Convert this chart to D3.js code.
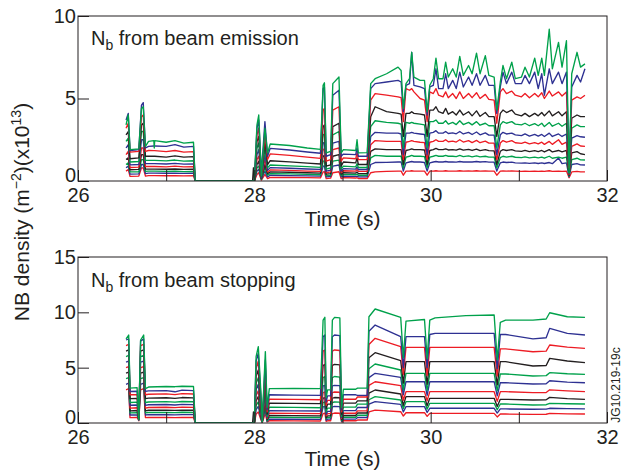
<!DOCTYPE html>
<html><head><meta charset="utf-8">
<script src="https://cdn.jsdelivr.net/npm/d3@7"></script>
<style>body{margin:0;background:#fff} svg{display:block} text{font-family:"Liberation Sans",Arial,Helvetica,sans-serif;fill:#231f20}</style>
</head><body><svg id="c" width="634" height="475"></svg>
<script>
// ---- data ----
const xTickValues = [26, 27, 28, 29, 30, 31, 32];
const xTickLabels = [26, 28, 30, 32];
const yTicksEmission = [0, 5, 10];
const yTicksStopping = [0, 5, 10, 15];
// channel order: bottom line first, top line last
const channelColors = ["#ed1c24","#2e3192","#00a14b","#231f20","#ed1c24","#2e3192","#00a14b","#231f20","#ed1c24","#2e3192","#00a14b"];

// rows: [time (s), ch1 ... ch11]  — N_b from beam emission (x10^13 m^-2)
const emissionRows = [
[26.545,0.6,0.8,1.0,1.3,1.6,2.0,2.4,2.8,3.2,3.7,3.4],
[26.57,0.7,0.9,1.1,1.4,1.8,2.2,2.6,3.0,3.5,4.1,4.0],
[26.59,0.28,0.42,0.55,0.68,0.82,0.98,1.15,1.35,1.75,1.85,1.9],
[26.69,0.3,0.43,0.56,0.7,0.84,1.0,1.18,1.4,1.8,1.9,1.95],
[26.72,0.8,1.0,1.3,1.6,2.0,2.5,3.0,3.4,3.9,4.6,4.4],
[26.74,0.8,1.0,1.3,1.6,2.0,2.5,3.0,3.5,4.0,4.75,4.5],
[26.765,0.3,0.45,0.58,0.72,0.88,1.05,1.25,1.5,1.8,2.0,2.1],
[26.8,0.33,0.48,0.6,0.72,0.88,1.05,1.25,1.5,1.85,2.1,2.4],
[26.86,0.33,0.48,0.6,0.72,0.88,1.05,1.25,1.5,1.84,2.12,2.45],
[26.865,0.33,0.48,0.6,0.72,0.88,1.05,1.25,1.5,1.84,2.12,2.0],
[26.87,0.33,0.48,0.6,0.72,0.88,1.05,1.25,1.5,1.84,2.12,2.45],
[27.0,0.32,0.47,0.58,0.71,0.86,1.03,1.22,1.45,1.78,2.1,2.35],
[27.1,0.33,0.48,0.6,0.73,0.9,1.07,1.27,1.52,1.85,2.2,2.45],
[27.2,0.31,0.46,0.57,0.7,0.86,1.02,1.2,1.45,1.75,2.05,2.3],
[27.31,0.32,0.47,0.58,0.71,0.87,1.04,1.23,1.48,1.78,2.1,2.35],
[27.33,0,0,0,0,0,0,0,0,0,0,0],
[27.98,0,0,0,0,0,0,0,0,0,0,0],
[27.99,0,0,0,0.8,0,0,0,0,0,0,0],
[28.0,0,0,0,0,0,0,0,0,0,0,0],
[28.03,0.4,0.6,0.8,1.0,1.3,1.6,2.0,2.4,2.8,3.2,3.4],
[28.05,0.5,0.7,0.9,1.2,1.5,1.9,2.3,2.7,3.2,3.7,4.0],
[28.08,0.05,0.1,0.1,0.15,0.2,0.2,0.3,0.3,0.4,0.5,0.3],
[28.12,0.4,0.6,0.8,1.0,1.3,1.6,2.0,2.4,2.9,3.6,3.2],
[28.15,0.15,0.25,0.35,0.45,0.55,0.65,0.8,1.0,1.3,1.5,1.7],
[28.18,0.22,0.35,0.45,0.55,0.67,0.81,0.97,1.23,1.64,1.98,2.24],
[28.4,0.21,0.33,0.43,0.53,0.64,0.77,0.92,1.16,1.55,1.88,2.15],
[28.6,0.2,0.31,0.4,0.5,0.6,0.73,0.87,1.08,1.45,1.76,2.0],
[28.75,0.19,0.3,0.38,0.48,0.58,0.7,0.83,1.03,1.37,1.68,1.92],
[28.78,0.55,0.9,1.2,1.5,1.9,2.3,2.8,3.3,4.3,5.6,5.8],
[28.795,0.56,0.92,1.22,1.55,1.95,2.35,2.85,3.4,4.4,5.7,5.95],
[28.815,0.15,0.25,0.33,0.42,0.5,0.6,0.72,0.9,1.2,1.5,1.7],
[28.865,0.17,0.27,0.35,0.45,0.55,0.66,0.79,0.98,1.3,1.6,1.8],
[28.89,0.5,0.9,1.2,1.5,1.9,2.3,2.8,3.3,4.3,5.2,5.9],
[28.96,0.56,0.97,1.27,1.6,2.0,2.4,3.0,3.5,4.5,5.5,6.3],
[28.985,0.15,0.25,0.33,0.42,0.5,0.6,0.72,0.9,1.2,1.5,1.7],
[29.01,0.2,0.3,0.4,0.5,0.62,0.75,0.9,1.15,1.4,1.63,1.9],
[29.15,0.18,0.28,0.38,0.48,0.6,0.72,0.86,1.1,1.35,1.6,1.85],
[29.165,0.2,0.3,0.42,0.55,0.7,0.85,1.05,1.4,1.7,2.0,2.5],
[29.18,0.15,0.25,0.35,0.45,0.58,0.7,0.82,1.0,1.3,1.5,1.7],
[29.28,0.15,0.25,0.35,0.45,0.58,0.7,0.82,1.0,1.3,1.5,1.72],
[29.32,0.5,1.0,1.4,1.8,2.2,2.7,3.3,3.9,4.9,5.6,5.9],
[29.37,0.55,1.12,1.55,1.95,2.45,2.95,3.65,4.5,5.3,5.9,6.2],
[29.5,0.58,1.13,1.5,1.9,2.4,2.9,3.55,4.2,5.2,6.0,6.5],
[29.63,0.6,1.15,1.5,1.9,2.4,2.9,3.5,4.1,5.1,6.1,6.9],
[29.665,0.6,1.15,1.5,1.9,2.4,2.85,3.45,4.05,5.05,6.0,6.7],
[29.69,0.35,0.6,0.8,1.0,1.3,1.6,2.0,2.7,3.6,4.2,4.4],
[29.72,0.6,1.1,1.45,1.85,2.35,2.9,3.55,4.1,5.6,5.8,5.9],
[29.76,0.6,1.15,1.5,1.9,2.4,2.9,3.5,4.1,5.5,5.9,6.2],
[29.785,0.62,1.18,1.55,1.95,2.45,2.95,3.55,4.2,5.6,7.8,7.8],
[29.81,0.6,1.15,1.5,1.9,2.4,2.9,3.5,4.1,5.4,5.8,6.3],
[29.88,0.6,1.15,1.5,1.9,2.35,2.85,3.45,4.05,5.0,5.7,6.1],
[29.93,0.6,1.12,1.48,1.88,2.33,2.82,3.4,4.0,4.9,5.6,6.1],
[29.96,0.35,0.6,0.8,1.0,1.3,1.6,2.0,2.7,3.6,4.0,4.2],
[29.99,0.6,1.1,1.45,1.85,2.35,2.9,3.6,4.3,5.4,5.7,5.8],
[30.03,0.6,1.15,1.5,1.9,2.4,2.95,3.6,4.3,5.3,5.8,6.2],
[30.06,0.62,1.18,1.55,1.98,2.5,3.05,3.7,4.5,5.6,6.8,7.45],
[30.09,0.6,1.15,1.5,1.9,2.4,2.9,3.5,4.2,5.2,5.6,6.2],
[30.14,0.6,1.15,1.5,1.9,2.4,2.9,3.5,4.1,5.1,5.6,6.2],
[30.17,0.62,1.18,1.55,1.95,2.5,3.0,3.65,4.4,5.4,6.5,7.2],
[30.2,0.6,1.15,1.5,1.88,2.38,2.88,3.45,4.05,5.05,5.6,6.3],
[30.25,0.6,1.15,1.5,1.9,2.42,2.92,3.55,4.2,5.3,6.1,6.8],
[30.29,0.6,1.14,1.48,1.87,2.36,2.86,3.42,4.0,5.0,5.6,6.3],
[30.33,0.62,1.18,1.55,1.95,2.5,3.0,3.65,4.3,5.4,6.6,7.55],
[30.37,0.6,1.15,1.48,1.87,2.36,2.85,3.42,4.0,5.0,5.7,6.4],
[30.43,0.61,1.16,1.52,1.92,2.45,2.95,3.55,4.2,5.3,6.3,7.0],
[30.47,0.6,1.15,1.46,1.85,2.33,2.82,3.4,3.95,5.05,5.8,6.5],
[30.52,0.62,1.18,1.52,1.93,2.46,2.97,3.6,4.25,5.35,6.5,7.75],
[30.56,0.6,1.15,1.46,1.84,2.32,2.8,3.38,3.92,5.0,5.8,6.5],
[30.62,0.61,1.17,1.5,1.9,2.42,2.92,3.5,4.15,5.25,6.4,7.6],
[30.66,0.6,1.14,1.45,1.84,2.3,2.78,3.35,3.9,4.95,5.8,6.4],
[30.72,0.6,1.14,1.45,1.83,2.3,2.78,3.35,3.9,4.9,5.8,6.3],
[30.75,0.35,0.6,0.8,1.0,1.3,1.6,2.0,2.7,3.5,4.1,4.3],
[30.79,0.6,1.1,1.42,1.8,2.3,2.8,3.4,4.1,5.4,5.7,6.0],
[30.82,0.61,1.15,1.5,1.9,2.45,2.95,3.6,4.3,5.6,6.6,7.0],
[30.86,0.6,1.12,1.45,1.85,2.35,2.85,3.5,4.15,5.3,5.9,6.2],
[30.92,0.61,1.14,1.5,1.9,2.45,2.9,3.6,4.3,5.45,6.6,7.2],
[30.96,0.6,1.1,1.44,1.83,2.32,2.8,3.45,4.05,5.2,5.9,6.2],
[31.03,0.58,1.08,1.42,1.8,2.28,2.75,3.4,3.95,5.1,5.9,6.3],
[31.07,0.6,1.1,1.46,1.86,2.36,2.85,3.5,4.1,5.3,6.4,6.9],
[31.12,0.58,1.07,1.4,1.78,2.25,2.72,3.35,3.9,5.05,5.9,6.3],
[31.18,0.6,1.1,1.45,1.84,2.33,2.82,3.48,4.1,5.3,6.6,7.45],
[31.22,0.58,1.06,1.4,1.78,2.25,2.72,3.35,3.95,5.1,5.6,6.4],
[31.26,0.6,1.1,1.45,1.85,2.35,2.82,3.5,4.15,5.35,6.5,7.45],
[31.29,0.58,1.06,1.38,1.76,2.22,2.7,3.3,3.95,5.0,5.2,6.4],
[31.345,0.62,1.12,1.5,1.9,2.4,2.9,3.55,4.25,5.45,6.8,9.2],
[31.38,0.58,1.05,1.38,1.76,2.22,2.7,3.32,3.95,5.15,5.9,6.8],
[31.45,0.6,1.4,1.45,1.85,2.5,2.85,3.5,4.2,5.4,6.6,8.4],
[31.49,0.58,1.05,1.38,1.76,2.22,2.7,3.32,3.95,5.15,5.9,6.9],
[31.54,0.6,1.1,1.45,1.85,2.35,2.85,3.5,4.2,5.4,6.6,8.5],
[31.57,0.2,0.25,0.3,0.35,0.4,0.45,0.5,0.6,0.8,1.0,0.5],
[31.6,0.55,1.0,1.3,1.7,2.1,2.6,3.2,3.8,4.9,5.7,6.5],
[31.66,0.58,1.05,1.38,1.78,2.25,2.75,3.4,4.0,5.1,6.4,7.8],
[31.7,0.55,0.98,1.28,1.65,2.12,2.68,3.3,3.9,5.0,6.0,6.9],
[31.75,0.55,0.97,1.27,1.6,2.1,2.65,3.3,3.9,5.2,6.8,7.1]
];

// rows: [time (s), ch1 ... ch11]  — N_b from beam stopping (x10^13 m^-2)
const stoppingRows = [
[26.545,3.0,3.5,4.0,4.5,5.0,5.5,6.0,6.5,7.0,7.5,7.6],
[26.575,3.1,3.6,4.1,4.6,5.1,5.6,6.1,6.6,7.1,7.6,7.95],
[26.59,0.48,0.72,0.92,1.1,1.35,1.6,1.85,2.2,2.55,2.85,3.15],
[26.67,0.5,0.74,0.94,1.13,1.38,1.63,1.88,2.22,2.57,2.87,3.2],
[26.69,0.2,0.25,0.3,0.35,0.4,0.45,0.5,0.55,0.6,0.65,0.3],
[26.71,3.0,3.5,4.0,4.5,5.0,5.5,6.0,6.5,7.0,7.4,7.5],
[26.745,3.1,3.6,4.1,4.6,5.1,5.6,6.1,6.6,7.1,7.6,7.95],
[26.765,0.48,0.72,0.92,1.1,1.35,1.6,1.85,2.2,2.55,2.85,3.1],
[26.8,0.5,0.75,0.95,1.15,1.4,1.65,1.9,2.25,2.6,2.9,3.25],
[27.0,0.5,0.75,0.96,1.16,1.42,1.67,1.93,2.28,2.63,2.93,3.3],
[27.1,0.49,0.74,0.94,1.14,1.39,1.63,1.88,2.22,2.56,2.82,3.28],
[27.18,0.5,0.76,0.97,1.17,1.43,1.68,1.94,2.3,2.66,2.97,3.32],
[27.31,0.5,0.75,0.95,1.15,1.41,1.66,1.92,2.27,2.62,2.93,3.3],
[27.33,0,0,0,0,0,0,0,0,0,0,0],
[27.98,0,0,0,0,0,0,0,0,0,0,0],
[27.99,0,0,0,1.0,0,0,0,0,0,0,0],
[28.0,0,0,0,0,0,0,0,0,0,0,0],
[28.02,0.8,1.2,1.6,2.0,2.5,3.0,3.6,4.2,4.9,5.6,6.0],
[28.045,1.0,1.5,1.9,2.4,2.9,3.5,4.1,4.8,5.6,6.3,6.9],
[28.075,0.3,0.4,0.5,0.6,0.8,1.0,1.2,1.5,1.9,2.3,2.7],
[28.09,0.05,0.05,0.1,0.1,0.1,0.15,0.15,0.2,0.2,0.2,0.1],
[28.125,0.9,1.3,1.7,2.1,2.6,3.1,3.7,4.3,5.0,5.7,6.45],
[28.145,0.1,0.15,0.2,0.3,0.4,0.5,0.6,0.8,1.0,1.2,1.4],
[28.17,0.2,0.35,0.52,0.68,0.88,1.12,1.43,1.8,2.15,2.55,3.1],
[28.45,0.19,0.34,0.51,0.67,0.87,1.1,1.41,1.78,2.13,2.52,3.13],
[28.75,0.18,0.33,0.5,0.65,0.85,1.08,1.38,1.75,2.1,2.5,3.1],
[28.78,0.85,1.45,1.85,2.25,2.75,3.35,4.1,5.2,6.5,7.8,9.3],
[28.8,0.9,1.5,1.9,2.3,2.8,3.4,4.2,5.3,6.6,7.95,9.55],
[28.815,0.15,0.25,0.4,0.5,0.65,0.8,1.0,1.3,1.6,1.9,2.3],
[28.83,0.2,0.35,0.5,0.65,0.85,1.05,1.35,1.7,2.05,2.45,3.0],
[28.865,0.2,0.35,0.5,0.65,0.85,1.05,1.35,1.7,2.05,2.45,3.0],
[28.885,0.85,1.45,1.85,2.25,2.75,3.35,4.1,5.2,6.5,7.8,9.3],
[28.91,0.9,1.5,1.9,2.3,2.8,3.4,4.2,5.3,6.6,7.95,9.55],
[28.97,0.88,1.48,1.88,2.28,2.78,3.38,4.15,5.25,6.55,7.9,9.5],
[28.99,0.1,0.15,0.2,0.3,0.4,0.5,0.6,0.8,1.0,1.2,1.4],
[29.01,0.2,0.35,0.52,0.68,0.88,1.12,1.43,1.8,2.15,2.55,3.05],
[29.15,0.2,0.35,0.52,0.68,0.88,1.12,1.43,1.8,2.15,2.55,3.05],
[29.17,0.27,0.5,0.7,0.9,1.1,1.4,1.7,2.0,2.35,2.5,3.15],
[29.28,0.27,0.5,0.7,0.9,1.1,1.4,1.7,2.0,2.35,2.5,3.15],
[29.3,1.0,1.7,2.1,2.7,3.4,4.1,4.9,5.9,7.1,8.3,9.6],
[29.37,1.17,1.93,2.38,2.98,3.73,4.49,5.33,6.35,7.65,8.85,10.3],
[29.66,1.02,1.69,2.08,2.62,3.37,4.13,4.79,5.63,6.9,7.8,9.55],
[29.69,0.63,1.0,1.3,1.6,2.05,2.55,3.0,3.6,4.4,5.0,5.9],
[29.72,0.93,1.48,1.93,2.38,2.83,3.73,4.49,5.54,6.83,7.8,9.2],
[29.93,0.93,1.48,1.93,2.38,2.83,3.73,4.49,5.54,6.83,7.8,9.35],
[29.96,0.6,0.95,1.25,1.55,2.0,2.5,2.95,3.5,4.3,5.0,5.8],
[29.99,0.87,1.33,1.78,2.23,2.83,3.73,4.49,5.54,6.83,8.0,9.3],
[30.05,0.87,1.33,1.78,2.23,2.83,3.73,4.49,5.54,6.83,8.1,9.5],
[30.4,0.87,1.33,1.78,2.23,2.83,3.73,4.49,5.54,6.83,8.1,9.7],
[30.72,0.87,1.33,1.78,2.23,2.83,3.73,4.49,5.54,6.83,8.1,9.76],
[30.755,0.55,0.9,1.2,1.5,1.95,2.45,2.9,3.45,4.25,4.9,5.7],
[30.79,0.81,1.27,1.72,2.14,2.83,3.64,4.43,5.54,6.7,8.0,9.1],
[30.85,0.81,1.27,1.72,2.14,2.83,3.64,4.43,5.54,6.7,8.0,9.3],
[31.16,0.78,1.24,1.63,2.08,2.74,3.52,4.25,5.15,6.44,7.6,9.3],
[31.31,0.79,1.25,1.65,2.1,2.76,3.55,4.28,5.2,6.5,7.7,9.4],
[31.35,0.87,1.33,1.78,2.32,3.0,3.82,4.55,5.84,7.05,8.55,9.96],
[31.55,0.83,1.3,1.74,2.2,2.9,3.7,4.45,5.6,6.85,8.1,9.6],
[31.75,0.81,1.27,1.72,2.14,2.83,3.64,4.4,5.45,6.75,7.95,9.55]
];

// ---- drawing ----
const svg = d3.select("#c");
const ink = "#231f20";
const x = d3.scaleLinear().domain([26, 32]).range([78, 607]);

const panels = [
  {rows: emissionRows, domain: [0, 10], top: 16, bottom: 181, ticks: yTicksEmission, title: " from beam emission", titleY: 45, xlabY: 226},
  {rows: stoppingRows, domain: [0, 15], top: 257, bottom: 423, ticks: yTicksStopping, title: " from beam stopping", titleY: 287, xlabY: 466}
];

panels.forEach((p, pi) => {
  const y = d3.scaleLinear().domain(p.domain).range([p.bottom, p.top]);
  const clipId = "clip" + pi;
  svg.append("clipPath").attr("id", clipId).append("rect")
    .attr("x", x.range()[0]).attr("y", p.top).attr("width", x.range()[1] - x.range()[0]).attr("height", p.bottom - p.top);

  const g = svg.append("g").attr("clip-path", `url(#${clipId})`);
  channelColors.forEach((col, ci) => {
    const line = d3.line().x(d => x(d[0])).y(d => y(d[ci + 1]));
    g.append("path").datum(p.rows).attr("d", line)
      .attr("fill", "none").attr("stroke", col).attr("stroke-width", 1.35)
      .attr("stroke-linejoin", "round");
  });

  // frame
  svg.append("rect").attr("x", 78).attr("y", p.top).attr("width", 529).attr("height", p.bottom - p.top)
    .attr("fill", "none").attr("stroke", ink).attr("stroke-width", 1);

  // x axis
  const xa = svg.append("g").attr("transform", `translate(0,${p.bottom})`)
    .call(d3.axisBottom(x).tickValues(xTickValues).tickSize(-11).tickSizeOuter(0).tickPadding(7)
      .tickFormat(d => xTickLabels.includes(d) ? d : ""));
  xa.select(".domain").remove();
  xa.selectAll("line").attr("stroke", ink);
  xa.selectAll("text").attr("font-size", 20).attr("fill", ink)
    .style("font-family", '"Liberation Sans",Arial,sans-serif');

  // y axis
  const ya = svg.append("g").attr("transform", "translate(78,0)")
    .call(d3.axisLeft(y).tickValues(p.ticks).tickSize(-11).tickSizeOuter(0).tickPadding(2));
  ya.select(".domain").remove();
  ya.selectAll("line").attr("stroke", ink);
  ya.selectAll("text").attr("font-size", 20).attr("fill", ink)
    .style("font-family", '"Liberation Sans",Arial,sans-serif');
  // the zero label sits just above the bottom axis, clear of the x labels
  ya.selectAll(".tick").filter(d => d === 0).select("text").attr("dy", "0.02em");

  // panel title
  const t = svg.append("text").attr("x", 91).attr("y", p.titleY).attr("font-size", 20);
  t.append("tspan").text("N");
  t.append("tspan").attr("dy", 5).attr("font-size", 14).text("b");
  t.append("tspan").attr("dy", -5).text(p.title);

  // x label
  svg.append("text").attr("x", 342.5).attr("y", p.xlabY).attr("text-anchor", "middle")
    .attr("font-size", 21).text("Time (s)");
});

// y label
const yl = svg.append("text").attr("transform", "translate(29,212) rotate(-90)")
  .attr("text-anchor", "middle").attr("font-size", 21);
yl.append("tspan").text("NB density (m");
yl.append("tspan").attr("dy", -8).attr("font-size", 14).text("\u22122");
yl.append("tspan").attr("dy", 8).text(")(x10");
yl.append("tspan").attr("dy", -8).attr("font-size", 14).text("13");
yl.append("tspan").attr("dy", 8).text(")");

// figure id
svg.append("text").attr("transform", "translate(620,385) rotate(-90)")
  .attr("text-anchor", "middle").attr("font-size", 12).text("JG10.219-19c");
</script></body></html>
